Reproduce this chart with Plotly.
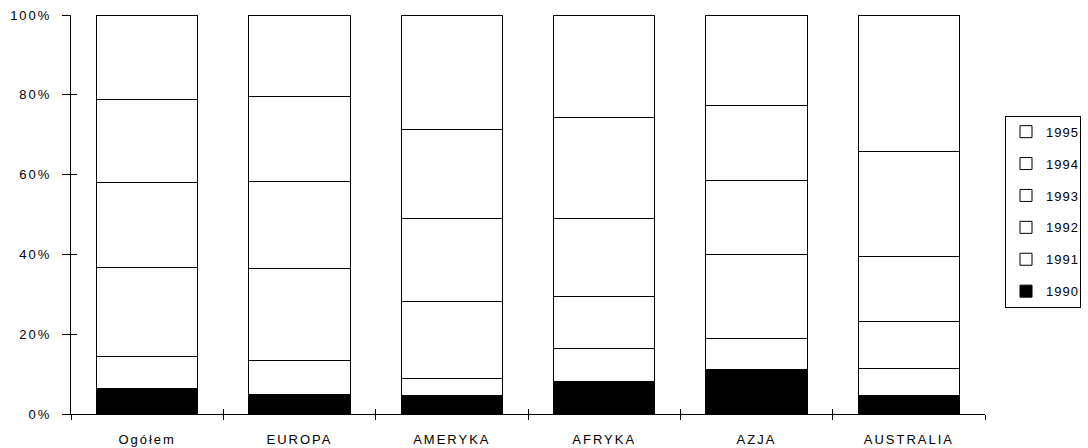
import plotly.graph_objects as go

categories = ["Ogółem", "EUROPA", "AMERYKA", "AFRYKA", "AZJA", "AUSTRALIA"]
years = ["1990", "1991", "1992", "1993", "1994", "1995"]
v1990 = [6.5, 5.0, 4.7, 8.2, 11.1, 4.6]
v1991 = [7.9, 8.3, 4.3, 8.3, 7.7, 6.9]
v1992 = [22.4, 23.1, 19.1, 12.9, 21.1, 11.6]
v1993 = [21.1, 21.9, 21.0, 19.6, 18.5, 16.4]
v1994 = [20.9, 21.3, 22.1, 25.4, 18.8, 26.2]
v1995 = [21.2, 20.4, 28.8, 25.6, 22.8, 34.3]
series = [v1990, v1991, v1992, v1993, v1994, v1995]
fills = ["#000000", "#ffffff", "#ffffff", "#ffffff", "#ffffff", "#ffffff"]

y_tickvals = [0, 20, 40, 60, 80, 100]
y_ticktext = ["0%", "20%", "40%", "60%", "80%", "100%"]

FONT = "Liberation Sans, Arial, sans-serif"

fig = go.Figure()
for i, (yr, vals, col) in enumerate(zip(years, series, fills)):
    fig.add_trace(go.Bar(
        x=categories, y=vals, name=yr, legendgroup=yr,
        legendrank=1000 - i,
        marker=dict(color=col, line=dict(color="#000000", width=1)),
        hoverinfo="skip",
    ))
# invisible helper trace so the overlay axes (cross-tick halves) render
fig.add_trace(go.Scatter(x=[], y=[], xaxis="x2", yaxis="y2", showlegend=False, hoverinfo="skip"))

n = len(categories)
boundaries = [i - 0.5 for i in range(n + 1)]

fig.update_layout(
    template="none",
    width=1088, height=448,
    margin=dict(l=71, r=103, t=15, b=34, pad=0, autoexpand=False),
    paper_bgcolor="white", plot_bgcolor="white",
    barmode="stack", bargap=0.333,
    font=dict(family=FONT, size=13, color="#000000"),
    showlegend=True,
    legend=dict(
        x=(1005 - 71) / 914, xanchor="left", y=(414.3 - 116) / 399, yanchor="top",
        traceorder="grouped", tracegroupgap=12,
        bordercolor="#000000", borderwidth=1, bgcolor="white",
        font=dict(family=FONT, size=13, color="#000000"),
    ),
    xaxis=dict(
        type="category", categoryorder="array", categoryarray=categories,
        range=[-0.5, n - 0.5], tickson="boundaries", automargin=False,
        ticks="outside", ticklen=5, tickwidth=1, tickcolor="#000000",
        showline=True, linecolor="#000000", linewidth=1,
        showgrid=False, zeroline=False, ticklabelstandoff=13,
        tickfont=dict(family=FONT, size=13, color="#000000"),
    ),
    xaxis2=dict(
        overlaying="x", anchor="y2", range=[-0.5, n - 0.5], automargin=False,
        tickmode="array", tickvals=boundaries,
        ticks="inside", ticklen=5, tickwidth=1, tickcolor="#000000",
        showticklabels=False, showline=False, showgrid=False, zeroline=False,
    ),
    yaxis=dict(
        range=[0, 100], tickmode="array", tickvals=y_tickvals, ticktext=y_ticktext,
        automargin=False,
        ticks="outside", ticklen=8, tickwidth=1, tickcolor="#000000",
        showline=True, linecolor="#000000", linewidth=1,
        showgrid=False, zeroline=False, ticklabelstandoff=8,
        tickfont=dict(family=FONT, size=13, color="#000000"),
    ),
    yaxis2=dict(
        overlaying="y", anchor="x2", side="left", range=[0, 100], automargin=False,
        tickmode="array", tickvals=y_tickvals,
        ticks="inside", ticklen=6, tickwidth=1, tickcolor="#000000",
        showticklabels=False, showline=False, showgrid=False, zeroline=False,
    ),
)

post = ("var s=document.createElement('style');"
        "s.textContent='html,body{margin:0;padding:0}.xtick text,.ytick text{letter-spacing:2px}"
        ".legendtext{letter-spacing:1px}';"
        "document.head.appendChild(s);")
fig.write_html("out.html", post_script=post, config={"displayModeBar": False})
